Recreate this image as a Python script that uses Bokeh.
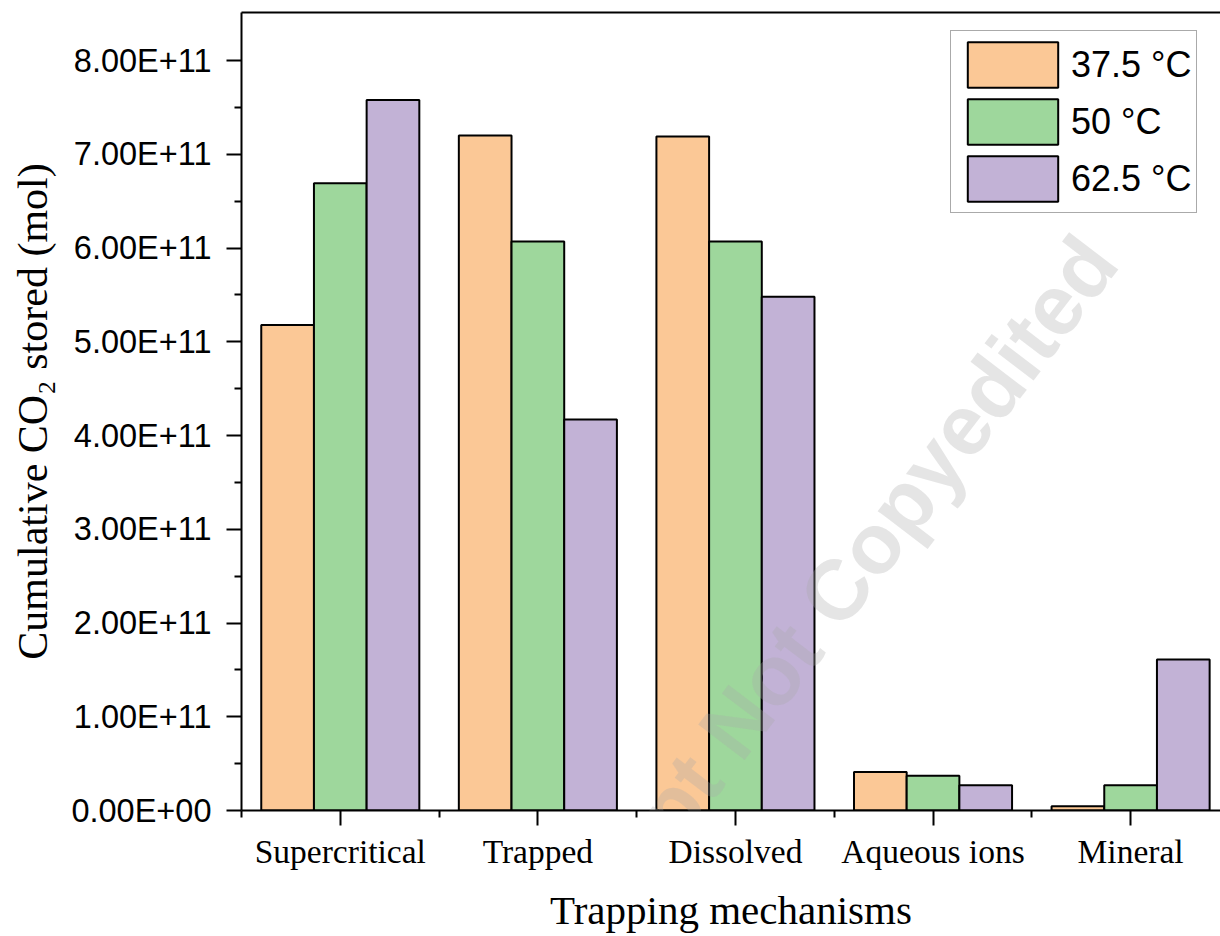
from bokeh.plotting import figure
from bokeh.models import (ColumnDataSource, Range1d, FixedTicker, LinearAxis,
                          Legend, LegendItem, Label)
from bokeh.embed import file_html
from bokeh.resources import INLINE

# Cumulative CO2 stored per trapping mechanism, for three temperatures
mechanisms = ["Supercritical", "Trapped", "Dissolved", "Aqueous ions", "Mineral"]
temperatures = ["37.5 \u00b0C", "50 \u00b0C", "62.5 \u00b0C"]
stored_37_5 = [5.18e11, 7.20e11, 7.19e11, 0.41e11, 0.046e11]
stored_50 = [6.69e11, 6.07e11, 6.07e11, 0.37e11, 0.27e11]
stored_62_5 = [7.58e11, 4.17e11, 5.48e11, 0.27e11, 1.61e11]

y_ticks = [0, 1e11, 2e11, 3e11, 4e11, 5e11, 6e11, 7e11, 8e11]
y_tick_labels = ["0.00E+00", "1.00E+11", "2.00E+11", "3.00E+11", "4.00E+11",
                 "5.00E+11", "6.00E+11", "7.00E+11", "8.00E+11"]
y_minor_ticks = [0.5e11, 1.5e11, 2.5e11, 3.5e11, 4.5e11, 5.5e11, 6.5e11, 7.5e11]

colors = ["#FBC896", "#9ED79C", "#C2B2D6"]

positions = list(range(1, len(mechanisms) + 1))
bar_w = 0.8 / 3
offsets = [-bar_w, 0.0, bar_w]
series = [stored_37_5, stored_50, stored_62_5]

p = figure(width=1220, height=936, output_backend="svg", toolbar_location=None,
           x_range=Range1d(0.5, 5.455), y_range=Range1d(0, 8.512e11),
           x_axis_type=None, y_axis_type=None,
           min_border_left=241, min_border_right=0,
           min_border_top=12, min_border_bottom=126)
p.outline_line_color = None
p.grid.visible = False
p.background_fill_color = "white"
p.border_fill_color = "white"

serif = "Liberation Serif"
sans = "Liberation Sans"

# bottom axis: category centres as major ticks, group boundaries as minor ticks
xaxis = LinearAxis(ticker=FixedTicker(ticks=positions,
                                      minor_ticks=[0.5, 1.5, 2.5, 3.5, 4.5, 5.5]))
xaxis.major_label_overrides = {pos: name for pos, name in zip(positions, mechanisms)}
xaxis.axis_label = "Trapping mechanisms"
xaxis.axis_label_text_font = serif
xaxis.axis_label_text_font_style = "normal"
xaxis.axis_label_text_font_size = "41px"
xaxis.axis_label_standoff = 14
xaxis.major_label_text_font = serif
xaxis.major_label_text_font_size = "33.5px"
xaxis.major_label_standoff = 7

# left axis
yaxis = LinearAxis(ticker=FixedTicker(ticks=y_ticks, minor_ticks=y_minor_ticks))
yaxis.major_label_overrides = {t: s for t, s in zip(y_ticks, y_tick_labels)}
yaxis.axis_label = "Cumulative CO\u2082 stored (mol)"
yaxis.axis_label_text_font = serif
yaxis.axis_label_text_font_style = "normal"
yaxis.axis_label_text_font_size = "42px"
yaxis.axis_label_standoff = 12
yaxis.major_label_text_font = sans
yaxis.major_label_text_font_size = "32.5px"
yaxis.major_label_standoff = 15

for ax in (xaxis, yaxis):
    ax.axis_line_width = 2
    ax.axis_line_color = "black"
    ax.major_tick_line_width = 2
    ax.minor_tick_line_width = 2
    ax.major_tick_line_color = "black"
    ax.minor_tick_line_color = "black"
    ax.major_tick_in = 0
    ax.minor_tick_in = 0
    ax.major_tick_out = 15
    ax.minor_tick_out = 7
    ax.major_label_text_color = "black"
    ax.axis_label_text_color = "black"

p.add_layout(xaxis, "below")
p.add_layout(yaxis, "left")

# plain top spine
top = LinearAxis(ticker=FixedTicker(ticks=[]), major_label_text_font_size="0px",
                 major_tick_line_color=None, minor_tick_line_color=None,
                 axis_line_width=2, axis_line_color="black")
p.add_layout(top, "above")

items = []
for name, vals, off, col in zip(temperatures, series, offsets, colors):
    src = ColumnDataSource(dict(x=[pos + off for pos in positions], top=vals))
    r = p.vbar(x="x", top="top", bottom=0, width=bar_w, source=src,
               fill_color=col, line_color="black", line_width=2)
    items.append(LegendItem(label=name, renderers=[r]))

legend = Legend(items=items, location=(709, 597),
                glyph_width=113, glyph_height=57, spacing=0, padding=5,
                label_standoff=2, margin=0,
                label_text_font=sans, label_text_font_size="36px",
                label_text_color="black",
                border_line_color="#555555", border_line_width=1.5,
                background_fill_color="white", background_fill_alpha=1)
p.add_layout(legend, "center")

# faint diagonal watermark, drawn over the whole canvas
wm = Label(x=522, y=124, x_units="screen", y_units="screen",
           text="Manuscript Not Copyedited", angle=52.7, angle_units="deg",
           text_font=sans, text_font_style="bold", text_font_size="85px",
           text_align="center", text_baseline="middle",
           text_color="#a8a8a8", text_alpha=0.3, level="overlay")
p.add_layout(wm)

open("out.html", "w").write(file_html(p, INLINE))
